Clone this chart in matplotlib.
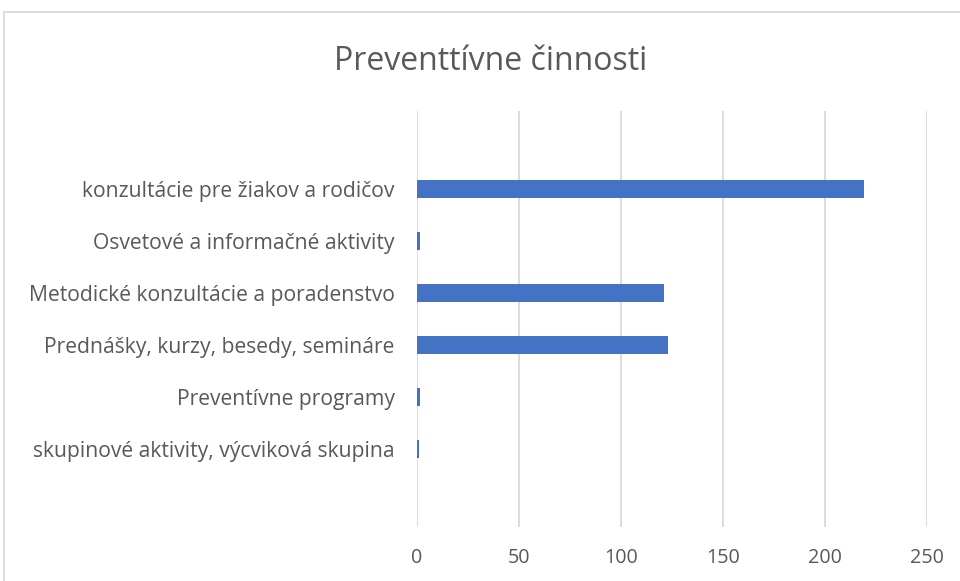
import matplotlib
matplotlib.use("Agg")
import matplotlib.pyplot as plt
from matplotlib.patches import Rectangle

categories = [
    "skupinové aktivity, výcviková skupina",
    "Preventívne programy",
    "Prednášky, kurzy, besedy, semináre",
    "Metodické konzultácie a poradenstvo",
    "Osvetové a informačné aktivity",
    "konzultácie pre žiakov a rodičov",
]
values = [1, 1.5, 123, 121, 1.5, 219]
xticks = [0, 50, 100, 150, 200, 250]
title = "Preventtívne činnosti"

plt.rcParams['font.family'] = ['Open Sans', 'DejaVu Sans']
txt = '#595959'
grid = '#d9d9d9'

fig = plt.figure(figsize=(9.6, 5.81), dpi=100)
fig.patches.append(Rectangle((4/960, -0.1), 1.2, 1 - 12/581 + 0.1, transform=fig.transFigure,
                             fill=False, edgecolor=grid, linewidth=1.3))
ax = fig.add_axes([417/960, 1 - 527/581, (927 - 417)/960, (527 - 111)/581])
y = list(range(len(categories)))
ax.barh(y, values, height=0.35, color='#4472C4', zorder=3)
ax.set_ylim(-1.5, len(categories) + 0.5)
ax.set_xlim(0, 250)
ax.set_xticks(xticks)
ax.set_xticklabels([str(t) for t in xticks])
ax.set_yticks(y)
ax.set_yticklabels(categories)
ax.grid(axis='x', color=grid, linewidth=1.3, zorder=0)
ax.tick_params(axis='both', length=0, colors=txt)
ax.tick_params(axis='y', pad=16, labelsize=15.2)
ax.tick_params(axis='x', pad=15, labelsize=14.2)
for s in ax.spines.values():
    s.set_visible(False)
fig.text(491/960, 1 - 61/581, title, ha='center', va='center', fontsize=23, color=txt)
fig.savefig('out.png', dpi=100)
